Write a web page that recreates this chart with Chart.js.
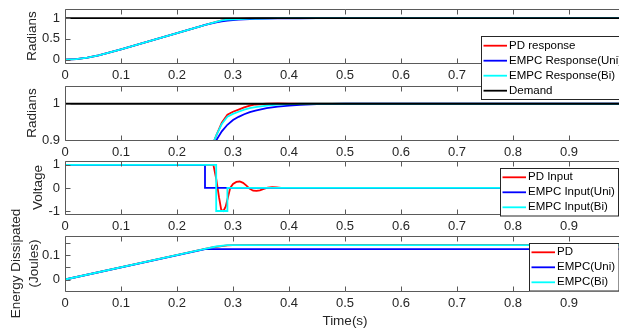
<!DOCTYPE html>
<html lang="en">
<head>
<meta charset="UTF-8" />
<title>PD vs EMPC response</title>
<script src="https://cdn.jsdelivr.net/npm/chart.js"></script>
<style>
  body { margin: 0; background: #fff; }
  #wrap { position: relative; width: 619px; height: 329px; overflow: hidden; }
  #wrap canvas { position: absolute; left: 0; }
</style>
</head>
<body>
<div id="wrap">
  <canvas id="c4" width="640" height="129" style="top:200px"></canvas>
  <canvas id="c3" width="640" height="81" style="top:155px"></canvas>
  <canvas id="c2" width="640" height="82" style="top:80px"></canvas>
  <canvas id="c1" width="640" height="105" style="top:0px"></canvas>
</div>
<script>
// shared time axis
const timeTicks = [0, 0.1, 0.2, 0.3, 0.4, 0.5, 0.6, 0.7, 0.8, 0.9, 1];
const timeTickLabels = ['0', '0.1', '0.2', '0.3', '0.4', '0.5', '0.6', '0.7', '0.8', '0.9', '1'];

// position (radians)
const posTime = [0, 0.02, 0.04, 0.06, 0.08, 0.1, 0.12, 0.14, 0.16, 0.18, 0.2, 0.22, 0.24, 0.25, 0.26, 0.27,
                 0.28, 0.29, 0.3, 0.31, 0.32, 0.33, 0.34, 0.36, 0.38, 0.4, 0.42, 0.45, 0.5, 0.6, 0.8, 1.0];
const posPD  = [0, 0.014, 0.05, 0.105, 0.175, 0.248, 0.326, 0.404, 0.482, 0.561, 0.64, 0.718, 0.796, 0.835, 0.874, 0.912,
                0.948, 0.97, 0.978, 0.984, 0.99, 0.995, 0.998, 1.0, 1.001, 1.0, 1.0, 1.0, 1.0, 1.0, 1.0, 1.0];
const posUni = [0, 0.014, 0.05, 0.105, 0.175, 0.248, 0.326, 0.404, 0.482, 0.561, 0.64, 0.718, 0.796, 0.835, 0.869, 0.899,
                0.924, 0.942, 0.955, 0.964, 0.971, 0.977, 0.981, 0.988, 0.992, 0.995, 0.997, 0.999, 1.0, 1.0, 1.0, 1.0];
const posBi  = [0, 0.014, 0.05, 0.105, 0.175, 0.248, 0.326, 0.404, 0.482, 0.561, 0.64, 0.718, 0.796, 0.835, 0.874, 0.912,
                0.944, 0.964, 0.972, 0.978, 0.984, 0.988, 0.991, 0.995, 0.998, 0.999, 1.0, 1.0, 1.0, 1.0, 1.0, 1.0];
const demandTime = [0, 1];
const demand = [1, 1];
const posTicks = [0, 0.5, 1];
const posTickLabels = ['0', '0.5', '1'];
const zoomTicks = [0.9, 1];
const zoomTickLabels = ['0.9', '1'];

// input voltage
const voltPDTime = [0, 0, 0.265, 0.27, 0.275, 0.279, 0.283, 0.287, 0.291, 0.295, 0.3, 0.306, 0.312, 0.318,
                    0.324, 0.33, 0.336, 0.342, 0.348, 0.355, 0.362, 0.37, 0.378, 0.386, 0.4, 0.42, 1];
const voltPD = [0, 1, 1, 0.4, -0.4, -0.95, -1, -0.8, -0.4, 0, 0.17, 0.26, 0.28, 0.22,
                0.1, -0.04, -0.12, -0.13, -0.1, -0.04, 0.01, 0.03, 0.02, 0, -0.01, 0, 0];
const voltUniTime = [0, 0, 0.25, 0.25, 1];
const voltUni = [0, 1, 1, 0, 0];
const voltBiTime = [0, 0, 0.27, 0.27, 0.29, 0.29, 1];
const voltBi = [0, 1, 1, -1, -1, 0, 0];
const voltTicks = [-1, 0, 1];
const voltTickLabels = ['-1', '0', '1'];

// energy dissipated (joules)
const enPDTime = [0, 0.25, 0.265, 0.28, 0.29, 0.3, 0.35, 1];
const enPD = [0, 0.125, 0.132, 0.137, 0.14, 0.141, 0.142, 0.142];
const enUniTime = [0, 0.25, 1];
const enUni = [0, 0.124, 0.124];
const enBiTime = [0, 0.25, 0.27, 0.29, 1];
const enBi = [0, 0.125, 0.135, 0.141, 0.141];
const enTicks = [0, 0.05, 0.1, 0.15];
const enTickLabels = ['0', '', '0.1', ''];

const FONT = '"Liberation Sans", Arial, Helvetica, sans-serif';
Chart.defaults.font.family = FONT;
Chart.defaults.font.size = 13;
Chart.defaults.color = '#262626';

const RED = '#ff0000', BLUE = '#0000ff', CYAN = '#00ffff', BLACK = '#000000';

function series(label, t, v, color, order) {
  return {
    label: label,
    data: t.map((x, i) => ({ x: x, y: v[i] })),
    borderColor: color,
    backgroundColor: color,
    borderWidth: 1.8,
    pointRadius: 0,
    tension: 0,
    fill: false,
    order: order
  };
}

function tickList(values, labels) {
  return values.map((value, i) => ({ value: value, label: labels[i] }));
}

// axes box with inward ticks (skips the legend rectangle), y tick labels after render
function axesBox(yTicks, yLabels, hole) {
  return {
    id: 'axesBox',
    afterDraw(chart) {
      const { ctx, chartArea: a, scales: { x, y } } = chart;
      const L = Math.round(a.left) + 0.5, R = Math.round(a.right) + 0.5;
      const T = Math.round(a.top) + 0.5, B = Math.round(a.bottom) + 0.5;
      ctx.save();
      if (hole) {
        ctx.beginPath();
        ctx.rect(0, 0, chart.width, chart.height);
        ctx.rect(hole.x, hole.y, hole.w + 1, hole.h + 1);
        ctx.clip('evenodd');
      }
      ctx.strokeStyle = '#5a5a5a';
      ctx.lineWidth = 1;
      ctx.beginPath();
      ctx.rect(L, T, R - L, B - T);
      x.ticks.forEach(t => {
        const px = Math.round(x.getPixelForValue(t.value)) + 0.5;
        ctx.moveTo(px, T); ctx.lineTo(px, T + 5);
        ctx.moveTo(px, B); ctx.lineTo(px, B - 5);
      });
      for (let i = 0; i < yTicks.length; i++) {
        const py = Math.round(y.getPixelForValue(yTicks[i])) + 0.5;
        ctx.moveTo(L, py); ctx.lineTo(L + 5, py);
        ctx.moveTo(R, py); ctx.lineTo(R - 5, py);
      }
      ctx.stroke();
      ctx.restore();
    },
    afterRender(chart) {
      const { ctx, chartArea: a, scales: { y } } = chart;
      ctx.save();
      ctx.fillStyle = '#262626';
      ctx.font = '13px ' + FONT;
      ctx.textAlign = 'right';
      ctx.textBaseline = 'middle';
      for (let i = 0; i < yTicks.length; i++) {
        if (yLabels[i] !== '') ctx.fillText(String(yLabels[i]), a.left - 5, y.getPixelForValue(yTicks[i]));
      }
      ctx.restore();
    }
  };
}

// legend drawn in a bordered white box
function boxLegend(box) {
  return {
    id: 'boxLegend',
    afterDatasetsDraw(chart) {
      const ctx = chart.ctx;
      ctx.save();
      ctx.fillStyle = '#fff';
      ctx.fillRect(box.x, box.y, box.w, box.h);
      ctx.strokeStyle = '#262626';
      ctx.lineWidth = 1;
      ctx.strokeRect(box.x + 0.5, box.y + 0.5, box.w, box.h);
      ctx.font = '11.5px ' + FONT;
      ctx.textBaseline = 'middle';
      ctx.textAlign = 'left';
      chart.data.datasets.forEach((d, i) => {
        const yy = box.y + box.first + i * 15;
        ctx.strokeStyle = d.borderColor;
        ctx.lineWidth = 1.8;
        ctx.beginPath();
        ctx.moveTo(box.x + 2.5, yy);
        ctx.lineTo(box.x + 26, yy);
        ctx.stroke();
        ctx.fillStyle = '#000';
        ctx.fillText(d.label, box.x + 28, yy);
      });
      ctx.restore();
    }
  };
}

function panel(id, o) {
  const plugins = [axesBox(o.yTicks, o.yLabels, o.legend)];
  if (o.legend) plugins.unshift(boxLegend(o.legend));
  return new Chart(document.getElementById(id), {
    type: 'line',
    data: { datasets: o.datasets },
    options: {
      responsive: false,
      animation: false,
      events: [],
      layout: { padding: { top: o.padTop, right: 15, bottom: o.padBottom || 0, left: 0 } },
      plugins: { legend: { display: false }, tooltip: { enabled: false } },
      scales: {
        x: {
          type: 'linear', min: 0, max: 1,
          grid: { display: false, drawTicks: false },
          border: { display: false },
          ticks: { padding: 5, autoSkip: false, maxRotation: 0, minRotation: 0 },
          afterBuildTicks: s => { s.ticks = tickList(timeTicks, timeTickLabels); },
          afterTickToLabelConversion: s => { s.ticks = tickList(timeTicks, timeTickLabels); },
          afterFit: s => { s.height = o.xHeight || 22; s.paddingLeft = 0; s.paddingRight = 0; },
          title: o.xTitle
            ? { display: true, text: o.xTitle, font: { size: 13.5 }, padding: { top: 0, bottom: 0 } }
            : { display: false }
        },
        y: {
          type: 'linear', min: o.yMin, max: o.yMax,
          grid: { display: false, drawTicks: false },
          border: { display: false },
          ticks: { display: false },
          afterFit: s => { s.width = 65; s.paddingTop = 0; s.paddingBottom = 0; },
          title: {
            display: true, text: o.yTitle,
            font: { size: 13.5, lineHeight: o.yTitleLine || 1.2 },
            padding: { top: o.yTitlePad, bottom: 0 }
          }
        }
      }
    },
    plugins: plugins
  });
}

function posSets() {
  return [
    series('PD response', posTime, posPD, RED, 3),
    series('EMPC Response(Uni)', posTime, posUni, BLUE, 2),
    series('EMPC Response(Bi)', posTime, posBi, CYAN, 1),
    series('Demand', demandTime, demand, BLACK, 0)
  ];
}

panel('c1', {
  datasets: posSets(), padTop: 9, padBottom: 20,
  yMin: -0.08, yMax: 1.22, yTicks: posTicks, yLabels: posTickLabels,
  yTitle: 'Radians', yTitlePad: 24,
  legend: { x: 481, y: 36, w: 158, h: 63, first: 9.7 }
});

panel('c2', {
  datasets: posSets(), padTop: 6,
  yMin: 0.9, yMax: 1.049, yTicks: zoomTicks, yLabels: zoomTickLabels,
  yTitle: 'Radians', yTitlePad: 24
});

panel('c3', {
  datasets: [
    series('PD Input', voltPDTime, voltPD, RED, 3),
    series('EMPC Input(Uni)', voltUniTime, voltUni, BLUE, 2),
    series('EMPC Input(Bi)', voltBiTime, voltBi, CYAN, 1)
  ],
  padTop: 6,
  yMin: -1.13, yMax: 1.17, yTicks: voltTicks, yLabels: voltTickLabels,
  yTitle: 'Voltage', yTitlePad: 30,
  legend: { x: 500, y: 13, w: 118, h: 47.5, first: 9.3 }
});

panel('c4', {
  datasets: [
    series('PD', enPDTime, enPD, RED, 3),
    series('EMPC(Uni)', enUniTime, enUni, BLUE, 2),
    series('EMPC(Bi)', enBiTime, enBi, CYAN, 1)
  ],
  padTop: 36, xHeight: 38, xTitle: 'Time(s)',
  yMin: -0.047, yMax: 0.178, yTicks: enTicks, yLabels: enTickLabels,
  yTitle: ['Energy Dissipated', '(Joules)'], yTitleLine: '18px', yTitlePad: 7,
  legend: { x: 529, y: 43, w: 89.5, h: 47.5, first: 9.3 }
});
</script>
</body>
</html>
